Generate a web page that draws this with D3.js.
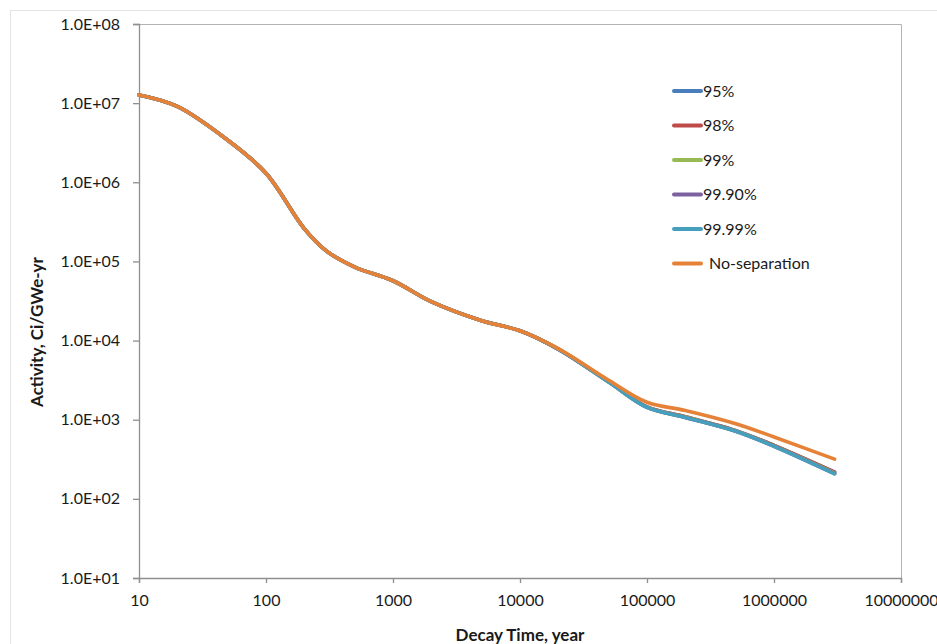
<!DOCTYPE html>
<html>
<head>
<meta charset="utf-8">
<script src="https://cdn.jsdelivr.net/npm/d3@7"></script>
<style>
  html, body { margin: 0; padding: 0; background: #fff; }
  svg { display: block; font-family: Lato, "Open Sans", sans-serif; }
</style>
</head>
<body>
<svg id="chart" width="937" height="644"></svg>
<script>
// Decay time (years) at which activity was evaluated
const decayTime = [10, 20, 50, 100, 200, 300, 500, 1000, 2000, 5000, 10000, 20000, 50000, 100000, 200000, 500000, 1000000, 3000000];

// Activity, Ci/GWe-yr, for each separation efficiency
const sep95   = [1.27e7, 9.1e6, 3.4e6, 1.3e6, 2.6e5, 1.35e5, 8.5e4, 5.7e4, 3.1e4, 1.78e4, 1.33e4, 7.8e3, 3.02e3, 1.45e3, 1.09e3, 728, 474, 218];
const sep98   = [1.27e7, 9.1e6, 3.4e6, 1.3e6, 2.6e5, 1.35e5, 8.5e4, 5.7e4, 3.1e4, 1.78e4, 1.33e4, 7.8e3, 3.02e3, 1.45e3, 1.09e3, 728, 474, 218];
const sep99   = [1.27e7, 9.1e6, 3.4e6, 1.3e6, 2.6e5, 1.35e5, 8.5e4, 5.7e4, 3.1e4, 1.78e4, 1.33e4, 7.8e3, 3.00e3, 1.44e3, 1.08e3, 720, 466, 212];
const sep999  = [1.27e7, 9.1e6, 3.4e6, 1.3e6, 2.6e5, 1.35e5, 8.5e4, 5.7e4, 3.1e4, 1.78e4, 1.33e4, 7.8e3, 2.99e3, 1.43e3, 1.07e3, 716, 462, 208];
const sep9999 = [1.27e7, 9.1e6, 3.4e6, 1.3e6, 2.6e5, 1.35e5, 8.5e4, 5.7e4, 3.1e4, 1.78e4, 1.33e4, 7.8e3, 2.99e3, 1.43e3, 1.07e3, 715, 461, 207];
const noSep   = [1.27e7, 9.1e6, 3.4e6, 1.3e6, 2.6e5, 1.35e5, 8.5e4, 5.7e4, 3.1e4, 1.78e4, 1.33e4, 7.9e3, 3.15e3, 1.66e3, 1.31e3, 890, 605, 318];

const seriesNames = ["95%", "98%", "99%", "99.90%", "99.99%", "No-separation"];
const seriesValues = [sep95, sep98, sep99, sep999, sep9999, noSep];
const seriesColors = ["#4a7ebb", "#be4b48", "#98b954", "#7d60a0", "#46a0bd", "#e58237"];

const xTicks = [10, 100, 1000, 10000, 100000, 1000000, 10000000];
const yTicks = [1e1, 1e2, 1e3, 1e4, 1e5, 1e6, 1e7, 1e8];

const svg = d3.select("#chart");
const plot = { left: 139, right: 901, top: 24, bottom: 578 };

// Outer chart frame
svg.append("rect")
  .attr("x", 10.5).attr("y", 10.5)
  .attr("width", 960).attr("height", 660)
  .attr("fill", "#fff").attr("stroke", "#e3e3e3");

const x = d3.scaleLog().domain([10, 1e7]).range([plot.left, plot.right]);
const y = d3.scaleLog().domain([1e1, 1e8]).range([plot.bottom, plot.top]);

// Plot area border (top & right)
svg.append("path")
  .attr("d", `M${plot.left},${plot.top + 0.5}H${plot.right + 0.5}V${plot.bottom}`)
  .attr("fill", "none").attr("stroke", "#b3b3b3").attr("stroke-width", 1);

// Axes
const fmtY = d => {
  const e = Math.round(Math.log10(d));
  return "1.0E+" + String(e).padStart(2, "0");
};

const yAxis = d3.axisLeft(y).tickValues(yTicks).tickFormat(fmtY).tickSize(6).tickPadding(13);
const xAxis = d3.axisBottom(x).tickValues(xTicks).tickFormat(d3.format("d")).tickSize(5).tickPadding(12);

const gy = svg.append("g").attr("transform", `translate(${plot.left},0)`).call(yAxis);
const gx = svg.append("g").attr("transform", `translate(0,${plot.bottom})`).call(xAxis);

[gx, gy].forEach(g => {
  g.select(".domain").attr("stroke", "#8f8f8f").attr("stroke-width", 1.3);
  g.selectAll(".tick line").attr("stroke", "#8f8f8f").attr("stroke-width", 1.3);
  g.selectAll(".tick text")
    .attr("fill", "#1a1a1a")
    .style("font-family", "Lato, 'Open Sans', sans-serif")
    .style("font-size", "16px");
});

// Axis titles
svg.append("text")
  .attr("x", 520).attr("y", 641)
  .attr("text-anchor", "middle")
  .attr("fill", "#1a1a1a")
  .style("font-size", "17px").style("font-weight", "bold")
  .text("Decay Time, year");

svg.append("text")
  .attr("transform", "translate(43,332) rotate(-90)")
  .attr("text-anchor", "middle")
  .attr("fill", "#1a1a1a")
  .style("font-size", "17px").style("font-weight", "bold")
  .text("Activity, Ci/GWe-yr");

// Series lines, smoothed
const line = d3.line()
  .x(d => x(d[0]))
  .y(d => y(d[1]))
  .curve(d3.curveCatmullRom.alpha(0.5));

seriesValues.forEach((vals, i) => {
  const pts = decayTime.map((t, j) => [t, vals[j]]);
  svg.append("path")
    .datum(pts)
    .attr("d", line)
    .attr("fill", "none")
    .attr("stroke", seriesColors[i])
    .attr("stroke-width", 3.6)
    .attr("stroke-linecap", "round")
    .attr("stroke-linejoin", "round");
});

// Legend
const legendY = [91, 125.5, 160, 194.5, 229, 263.5];
const legend = svg.append("g");
seriesNames.forEach((name, i) => {
  legend.append("line")
    .attr("x1", 674).attr("x2", 701)
    .attr("y1", legendY[i]).attr("y2", legendY[i])
    .attr("stroke", seriesColors[i])
    .attr("stroke-width", 4)
    .attr("stroke-linecap", "round");
  legend.append("text")
    .attr("x", i === 5 ? 709 : 703)
    .attr("y", legendY[i])
    .attr("dy", "0.36em")
    .attr("fill", "#1a1a1a")
    .style("font-size", "16px")
    .text(name);
});
</script>
</body>
</html>
